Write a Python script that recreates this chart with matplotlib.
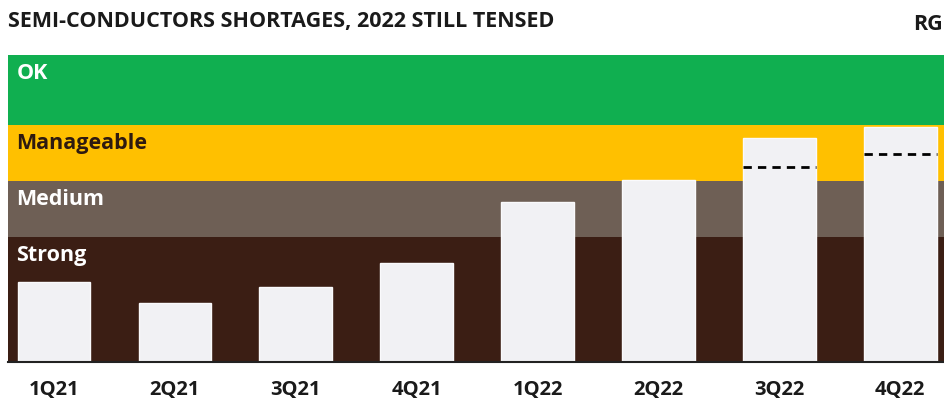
import matplotlib
matplotlib.use("Agg")
import matplotlib.pyplot as plt

categories = ["1Q21", "2Q21", "3Q21", "4Q21", "1Q22", "2Q22", "3Q22", "4Q22"]
values = [26.0, 19.2, 24.4, 32.2, 52.0, 59.3, 73.0, 76.5]
dash_idx = [6, 7]
dash_values = [63.5, 67.8]
band_names = ["Strong", "Medium", "Manageable", "OK"]
band_edges = [0, 40.7, 59.0, 77.2, 100.0]
band_colors = ["#3B1E14", "#6E5F55", "#FFC000", "#10AF50"]
band_text_colors = ["white", "white", "#2e1a10", "white"]

fig = plt.figure(figsize=(9.45, 4.01), dpi=100)
ax = fig.add_axes([8/945, 39/401, 1 - 8/945, 307/401])

for i, name in enumerate(band_names):
    ax.axhspan(band_edges[i], band_edges[i+1], color=band_colors[i], zorder=0, lw=0)
    ax.text(-0.31, band_edges[i+1] - 6.0, name, color=band_text_colors[i],
            fontsize=15.5, fontweight="bold", family="Open Sans", va="center", ha="left", zorder=3)

x = list(range(len(categories)))
ax.bar(x, values, width=0.6, color="#F1F1F4", edgecolor="#FAFAFC", lw=1, zorder=2)
for i, v in zip(dash_idx, dash_values):
    ax.plot([i - 0.3, i + 0.3], [v, v], color="black", ls=(0, (3, 2.2)), lw=2, zorder=4)

ax.set_xlim(-0.38, 7.37)
ax.set_ylim(0, 100)
ax.set_yticks([])
ax.set_xticks(x)
ax.set_xticklabels(categories, fontsize=14.5, fontweight="bold", family="Open Sans", color="#1a1a1a")
ax.tick_params(axis="x", length=0, pad=13)
for s in ["top", "right", "left"]:
    ax.spines[s].set_visible(False)
ax.spines["bottom"].set_color("#222222")
ax.spines["bottom"].set_linewidth(1.5)

fig.text(8/945, 1 - 22/401, "SEMI-CONDUCTORS SHORTAGES, 2022 STILL TENSED", fontsize=15.5,
         fontweight="bold", family="Open Sans", va="center", ha="left", color="#1a1a1a")
fig.text(943/945, 1 - 25/401, "RG", fontsize=15.5, fontweight="bold", family="Open Sans",
         va="center", ha="right", color="#1a1a1a")

fig.savefig("out.png", dpi=100)
